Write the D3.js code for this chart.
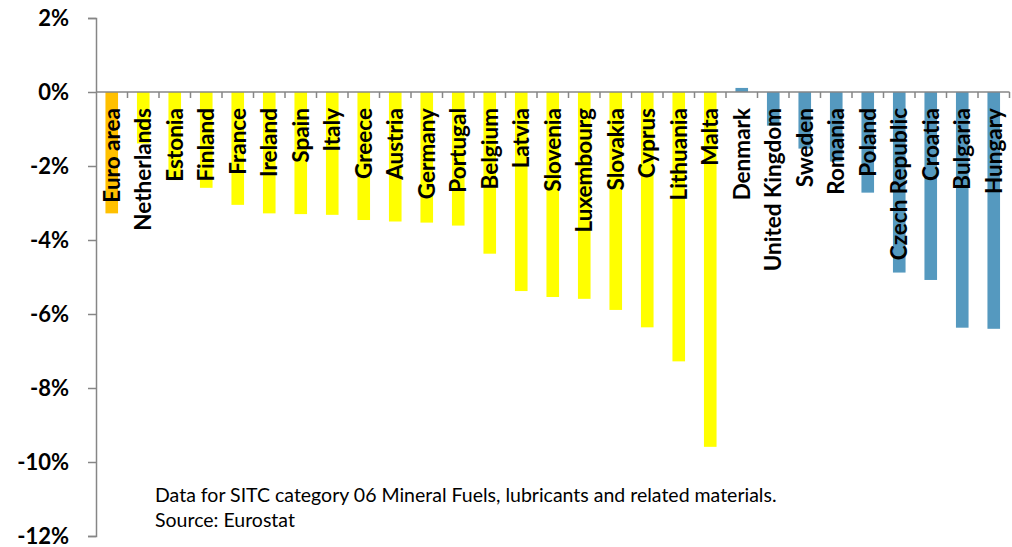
<!DOCTYPE html>
<html><head><meta charset="utf-8">
<script src="https://cdn.jsdelivr.net/npm/d3@7"></script>
<style>body{margin:0;background:#fff}svg{display:block}</style>
</head><body>
<svg id="c" width="1012" height="547"></svg>
<script>
const categories = ["Euro area","Netherlands","Estonia","Finland","France","Ireland","Spain","Italy","Greece","Austria","Germany","Portugal","Belgium","Latvia","Slovenia","Luxembourg","Slovakia","Cyprus","Lithuania","Malta","Denmark","United Kingdom","Sweden","Romania","Poland","Czech Republic","Croatia","Bulgaria","Hungary"];
const values = [-3.28,-1.39,-2.38,-2.59,-3.05,-3.28,-3.30,-3.32,-3.46,-3.50,-3.53,-3.61,-4.37,-5.38,-5.54,-5.59,-5.89,-6.36,-7.28,-9.59,0.11,-0.91,-1.53,-1.88,-2.72,-4.88,-5.08,-6.37,-6.40];
const groups = ["ea","ez","ez","ez","ez","ez","ez","ez","ez","ez","ez","ez","ez","ez","ez","ez","ez","ez","ez","ez","non","non","non","non","non","non","non","non","non"];
const yTicks = [2,0,-2,-4,-6,-8,-10,-12];
const noteLines = ["Data for SITC category 06 Mineral Fuels, lubricants and related materials.","Source: Eurostat"];
const colors = {ea:"#FFC000", ez:"#FFFF00", non:"#5599BF"};

const svg = d3.select("#c");
const x0 = 96, x1 = 1009.5;
const x = d3.scaleBand().domain(categories).range([x0, x1]).paddingInner(0.6).paddingOuter(0.3);
const y = d3.scaleLinear().domain([-12, 2]).range([536, 18]);
const axisColor = "#868686";

// bars
svg.append("g").selectAll("rect").data(categories).join("rect")
  .attr("x", d => x(d))
  .attr("width", x.bandwidth())
  .attr("y", (d,i) => y(Math.max(0, values[i])))
  .attr("height", (d,i) => Math.abs(y(values[i]) - y(0)))
  .attr("fill", (d,i) => colors[groups[i]]);

// y axis
const ya = svg.append("g").attr("transform", `translate(${x0},0)`)
  .call(d3.axisLeft(y).tickValues(yTicks).tickSize(8).tickPadding(19).tickFormat(d => d + "%"));
ya.select(".domain").attr("stroke", axisColor).attr("stroke-width", 1.5);
ya.selectAll(".tick line").attr("stroke", axisColor).attr("stroke-width", 1.5);
ya.selectAll(".tick text").attr("font-family", "Lato, sans-serif").attr("font-weight", "bold")
  .attr("font-size", 22).attr("fill", "#000");

// x axis line at zero with boundary ticks
const step = x.step();
const xa = svg.append("g");
xa.append("line").attr("x1", x0).attr("x2", x1).attr("y1", y(0)).attr("y2", y(0))
  .attr("stroke", axisColor).attr("stroke-width", 1.5);
xa.selectAll("line.t").data(d3.range(1, categories.length + 1)).join("line").attr("class","t")
  .attr("x1", i => x0 + i*step).attr("x2", i => x0 + i*step)
  .attr("y1", y(0)).attr("y2", y(0) + 6)
  .attr("stroke", axisColor).attr("stroke-width", 1.5);

// category labels
svg.append("g").selectAll("text").data(categories).join("text")
  .attr("transform", d => `translate(${x(d) + x.bandwidth()/2},108) rotate(-90)`)
  .attr("text-anchor", "end").attr("dy", "0.36em")
  .attr("font-family", "Lato, sans-serif").attr("font-weight", "bold").attr("font-size", 22.5)
  .attr("fill", "#000")
  .text(d => d);

// note
svg.append("g").selectAll("text").data(noteLines).join("text")
  .attr("x", 155).attr("y", (d,i) => 502 + i*25)
  .attr("font-family", "Lato, sans-serif").attr("font-size", 19.5).attr("fill", "#000")
  .text(d => d);
</script>
</body></html>
